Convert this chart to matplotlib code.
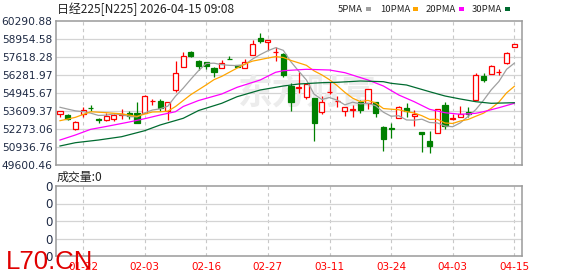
import matplotlib.pyplot as plt
from matplotlib.patches import Rectangle

W, H = 578, 276

# ---- data ----
dates = ["01-19", "01-20", "01-21", "01-22", "01-23", "01-26", "01-27", "01-28", "01-29", "01-30",
         "02-02", "02-03", "02-04", "02-05", "02-06", "02-09", "02-10", "02-12", "02-13", "02-16",
         "02-17", "02-18", "02-19", "02-20", "02-24", "02-25", "02-26", "02-27",
         "03-02", "03-03", "03-04", "03-05", "03-06", "03-09", "03-10", "03-11", "03-12", "03-13",
         "03-16", "03-17", "03-18", "03-19", "03-23", "03-24", "03-25", "03-26", "03-27", "03-30", "03-31",
         "04-01", "04-02", "04-03", "04-06", "04-07", "04-08", "04-09", "04-10", "04-13", "04-14", "04-15"]

opens = [53410, 53290, 52250, 53385, 53855, 53015, 52920, 53040, 53335, 53440,
         53485, 53485, 54320, 54350, 53630, 55170, 56875, 57975, 57285, 57225,
         56825, 56780, 57490, 57025, 56825, 57745, 59050, 58710, 58005, 57820,
         55465, 55295, 54650, 54575, 53555, 55005, 54350, 53630, 53720, 54300,
         54180, 54300, 52445, 52370, 53065, 53855, 53260, 52030, 51405, 51955,
         54055, 53050, 53185, 53535, 54425, 56210, 56335, 56470, 57150, 58360]
highs = [53640, 53365, 52830, 53885, 54030, 53110, 53460, 53385, 53735, 53585,
         54300, 54775, 54480, 54465, 54300, 57335, 57975, 58080, 57395, 57245,
         56840, 57395, 57690, 57040, 57445, 58880, 59380, 58880, 58340, 57895,
         55665, 56525, 55710, 54575, 54725, 55740, 54725, 53885, 54055, 54425,
         55220, 54300, 52495, 52695, 53980, 54225, 53685, 52030, 52125, 53735,
         54300, 53385, 54005, 53885, 56410, 56410, 57025, 56725, 57990, 58560]
lows = [53140, 52920, 52235, 53185, 53630, 52695, 52900, 52845, 52995, 53015,
        52695, 53460, 54055, 53630, 52940, 55040, 56850, 57595, 56675, 56705,
        56155, 56780, 57445, 56860, 56780, 57745, 58680, 58140, 57345, 56155,
        53630, 54970, 54500, 51405, 53385, 54895, 53885, 53260, 53140, 53485,
        53735, 53185, 50660, 51625, 53065, 53185, 52520, 50590, 50515, 51955,
        52295, 52940, 53185, 53185, 54425, 55785, 56335, 56280, 57075, 58360]
closes = [53610, 53015, 52795, 53685, 53840, 52920, 53240, 53290, 53365, 53260,
          52695, 54725, 54350, 53810, 54280, 56395, 57690, 57705, 56965, 56915,
          56525, 57150, 57445, 56875, 57270, 58585, 58805, 58880, 58020, 56280,
          54300, 55370, 55615, 52740, 54300, 55020, 54375, 53885, 53745, 53685,
          55220, 53440, 51510, 52250, 53885, 53630, 53365, 51880, 51010, 53735,
          52495, 53075, 53365, 53365, 56280, 55910, 56950, 56490, 57895, 58560]

ma5 = [53885, 53750, 53620, 53560, 53450, 53280, 53300, 53395, 53330, 53215,
       53170, 53467, 53680, 53770, 53970, 54710, 55305, 55975, 56610, 57135,
       57160, 57050, 57000, 56980, 57055, 57465, 57795, 58085, 58310, 58115,
       57255, 56570, 55915, 54860, 54465, 54610, 54410, 54065, 54265, 54140,
       54180, 53995, 53520, 53220, 53260, 52945, 52930, 53000, 52755, 52725,
       52495, 52440, 52735, 53205, 53715, 54400, 55175, 55800, 56705, 57160]
ma10 = [52890, 53010, 53140, 53350, 53555, 53520, 53485, 53440, 53400, 53302,
        53211, 53382, 53537, 53550, 53594, 53941, 54386, 54828, 55188, 55553,
        55936, 56179, 56488, 56795, 57094, 57313, 57424, 57542, 57647, 57584,
        57361, 57183, 57000, 56587, 56290, 55933, 55490, 54991, 54563, 54304,
        54396, 54203, 53792, 53743, 53702, 53563, 53462, 53261, 52988, 52993,
        52720, 52684, 52869, 52981, 53220, 53448, 53807, 54268, 54956, 55439]
ma20_idx = [0, 2, 4, 6, 9, 11, 13, 15, 16, 18, 21, 23, 26, 28, 29, 32, 35, 37,
            40, 42, 44, 46, 48, 49, 50, 52, 54, 55, 57, 59]
ma20 = [51455, 51828, 52251, 52460, 52793, 53038, 53312, 53557, 53943, 54389,
        54871, 55369, 55911, 56482, 56601, 56705, 56653, 56453, 55911, 55465,
        54797, 54300, 53735, 53609, 53483, 53364, 53438, 53557, 53854, 54181]
ma30_idx = [0, 2, 5, 8, 11, 13, 16, 18, 21, 23, 26, 29, 31, 34, 36, 39, 42, 43,
            45, 48, 50, 52, 54, 56, 59]
ma30 = [51011, 51256, 51455, 51701, 52147, 52570, 53067, 53646, 54181, 54671,
        55168, 55465, 55614, 55710, 55740, 55836, 55785, 55666, 55540, 55042,
        54723, 54500, 54300, 54181, 54225]

price_ticks = [49600.46, 50936.76, 52273.06, 53609.37, 54945.67,
               56281.97, 57618.28, 58954.58, 60290.88]
date_ticks = [3, 11, 19, 27, 35, 43, 51, 59]
ma_names = ["5PMA", "10PMA", "20PMA", "30PMA"]

RED = "#ff0000"
GREEN = "#008000"
MA_COLORS = ["#a0a0a0", "#ffa500", "#ff00ff", "#006b30"]
GRID = "#d4d4d4"
BORDER = "#9a9a9a"
LABEL = "#1e2a44"

fig = plt.figure(figsize=(W / 100, H / 100), dpi=100)
fig.patch.set_facecolor("white")

ax = fig.add_axes([56 / W, 1 - 165 / H, 466 / W, 144 / H])
axv = fig.add_axes([56 / W, 1 - 256 / H, 466 / W, 70 / H])

for a in (ax, axv):
    a.set_xlim(-0.52, 60.0)
    for s in a.spines.values():
        s.set_color(BORDER)
        s.set_linewidth(1.1)
    a.tick_params(length=0, pad=2.5)
    a.set_xticks(date_ticks)
    for t in date_ticks:
        a.axvline(t, color="#c8c8c8", lw=0.8, ls=(0, (3, 3)), zorder=0.5)

# ---- price panel ----
ax.set_ylim(price_ticks[0], price_ticks[-1])
ax.set_yticks(price_ticks)
ax.set_yticklabels([f"{v:.2f}" for v in price_ticks], fontsize=7.7,
                   color=LABEL, family="DejaVu Sans")
ax.set_xticklabels([])
for v in price_ticks[1:-1]:
    ax.axhline(v, color=GRID, lw=0.9, zorder=0.5)

ax.text(0.54, 0.5, "东方财富", transform=ax.transAxes, ha="center", va="center",
        fontsize=25, fontweight="bold", color="#ececec",
        family="Noto Sans CJK SC", zorder=0.6)

bw = 0.66
for i, (o, h, l, c) in enumerate(zip(opens, highs, lows, closes)):
    up = c >= o
    col = RED if up else GREEN
    ax.vlines(i, l, h, color=col, lw=0.9, zorder=2)
    lo, hi = min(o, c), max(o, c)
    ax.add_patch(Rectangle((i - bw / 2, lo), bw, max(hi - lo, 1.0),
                           facecolor="white" if up else GREEN,
                           edgecolor=col, lw=0.9, zorder=2.5))

ax.plot(range(len(ma5)), ma5, color=MA_COLORS[0], lw=0.9, zorder=3)
ax.plot(range(len(ma10)), ma10, color=MA_COLORS[1], lw=0.9, zorder=3)
ax.plot(ma20_idx, ma20, color=MA_COLORS[2], lw=0.9, zorder=3)
ax.plot(ma30_idx, ma30, color=MA_COLORS[3], lw=0.9, zorder=3)

# ---- volume panel ----
axv.set_ylim(0, 4)
axv.set_yticks([0, 1, 2, 3, 4])
axv.set_yticklabels(["0"] * 5, fontsize=8.5, color=LABEL, family="DejaVu Sans")
for v in [1, 2, 3]:
    axv.axhline(v, color=GRID, lw=0.9, zorder=0.5)
axv.set_xticklabels([dates[i] for i in date_ticks], fontsize=7.5, color=RED,
                    family="DejaVu Sans")
axv.tick_params(axis="x", pad=4)

# ---- header texts ----
cjk = ["Noto Sans CJK SC", "DejaVu Sans"]
fig.text(57 / W, 1 - 9 / H, "日经225[N225] 2026-04-15 09:08", fontsize=8.6,
         family=cjk, color="#222222", va="center", ha="left")
fig.text(57 / W, 1 - 177 / H, "成交量:0", fontsize=8.6, family=cjk,
         color="#222222", va="center", ha="left")

# legend: label start and square position in pixels
text_x = [338, 380, 426, 472]
square_x = [366, 413, 459, 505]
for name, tx, sx, col in zip(ma_names, text_x, square_x, MA_COLORS):
    fig.text(tx / W, 1 - 9 / H, name, fontsize=6.8, family=cjk,
             color="#222222", va="center", ha="left")
    fig.add_artist(Rectangle((sx / W, 1 - 11 / H), 5 / W, 4 / H,
                             transform=fig.transFigure, facecolor=col,
                             edgecolor="none"))

fig.text(6 / W, 1 - 262 / H, "L70.CN", fontsize=18.5, family="Liberation Sans",
         color="#e00000", va="center", ha="left", zorder=10)

fig.savefig("out.png", dpi=100)
